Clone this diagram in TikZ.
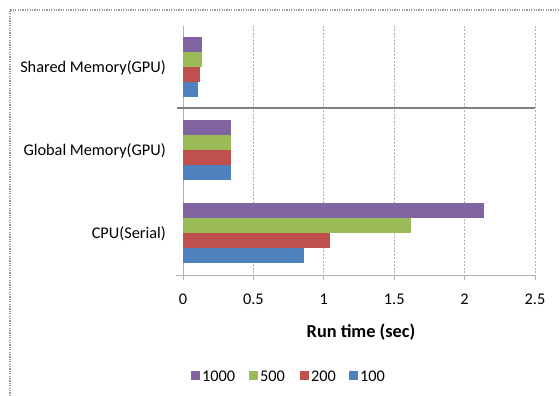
\documentclass[tikz,border=0pt]{standalone}
\usepackage{fontspec}
\setmainfont{Carlito}
\definecolor{cPurple}{HTML}{8064A2}
\definecolor{cGreen}{HTML}{9BBB59}
\definecolor{cRed}{HTML}{C0504D}
\definecolor{cBlue}{HTML}{4F81BD}
\definecolor{gridgray}{HTML}{B0B0B0}
\begin{document}
\begin{tikzpicture}[x=1pt,y=-1pt,
  font=\fontsize{16.3}{18}\selectfont,
  frame/.style={draw=gray!80, line width=1.6pt, dash pattern=on 1.2pt off 1.2pt},
  gridline/.style={draw=gridgray, line width=0.7pt, dash pattern=on 2pt off 1.5pt},
  axisline/.style={draw=gridgray, line width=0.8pt},
  sepline/.style={draw=gray, line width=2pt},
  catlabel/.style={anchor=east, inner sep=0pt},
  ticklabel/.style={inner sep=0pt},
  legsq/.style={minimum size=9pt, inner sep=0pt, outer sep=0pt},
  legtext/.style={anchor=west, inner sep=0pt}]
\useasboundingbox (0,0) rectangle (560,396);
\fill[white] (0,0) rectangle (560,396);

% outer chart frame (top and left edges)
\draw[frame] (10,396) -- (10,10) -- (560,10);

% vertical gridlines and value axis ticks
\foreach \v in {0.5,1,1.5,2,2.5}
  \draw[gridline] ({183+\v*140.8},26) -- ({183+\v*140.8},275);
\draw[axisline] (183,26) -- (183,275);
\draw[axisline] (176,275) -- (535,275);
\foreach \v in {0,0.5,1,1.5,2,2.5}
  \draw[axisline] ({183+\v*140.8},275) -- ({183+\v*140.8},280);

% bars: value / top edge / colour
\foreach \v/\t/\c in {
    0.135/37/cPurple, 0.135/52/cGreen, 0.12/67/cRed, 0.107/82/cBlue,
    0.34/120/cPurple, 0.34/135/cGreen, 0.34/150/cRed, 0.34/165/cBlue,
    2.14/203/cPurple, 1.62/218/cGreen, 1.045/233/cRed, 0.86/248/cBlue}
  \fill[\c] (183,\t) rectangle ({183+\v*140.8},\t+15);

% separator between the GPU groups
\draw[sepline] (177,108) -- (535,108);

% category labels
\node[catlabel] (catShared) at (166,68) {Shared Memory(GPU)};
\node[catlabel] (catGlobal) at (166,151) {Global Memory(GPU)};
\node[catlabel] (catCPU) at (166,234) {CPU(Serial)};

% value axis labels
\node[ticklabel] (t0) at (183,299) {0};
\node[ticklabel] (t05) at (253.4,299) {0.5};
\node[ticklabel] (t10) at (323.8,299) {1};
\node[ticklabel] (t15) at (394.2,299) {1.5};
\node[ticklabel] (t20) at (464.6,299) {2};
\node[ticklabel] (t25) at (535,299) {2.5};

% axis title
\node[font=\fontsize{18.3}{20}\selectfont\bfseries] (title) at (361,332) {Run time (sec)};

% legend
\node[legsq, fill=cPurple] (k1000) at (195.5,375) {};
\node[legtext] (l1000) at (202,376) {1000};
\node[legsq, fill=cGreen] (k500) at (253.5,375) {};
\node[legtext] (l500) at (260,376) {500};
\node[legsq, fill=cRed] (k200) at (304,375) {};
\node[legtext] (l200) at (311,376) {200};
\node[legsq, fill=cBlue] (k100) at (353.5,375) {};
\node[legtext] (l100) at (360,376) {100};
\end{tikzpicture}
\end{document}
